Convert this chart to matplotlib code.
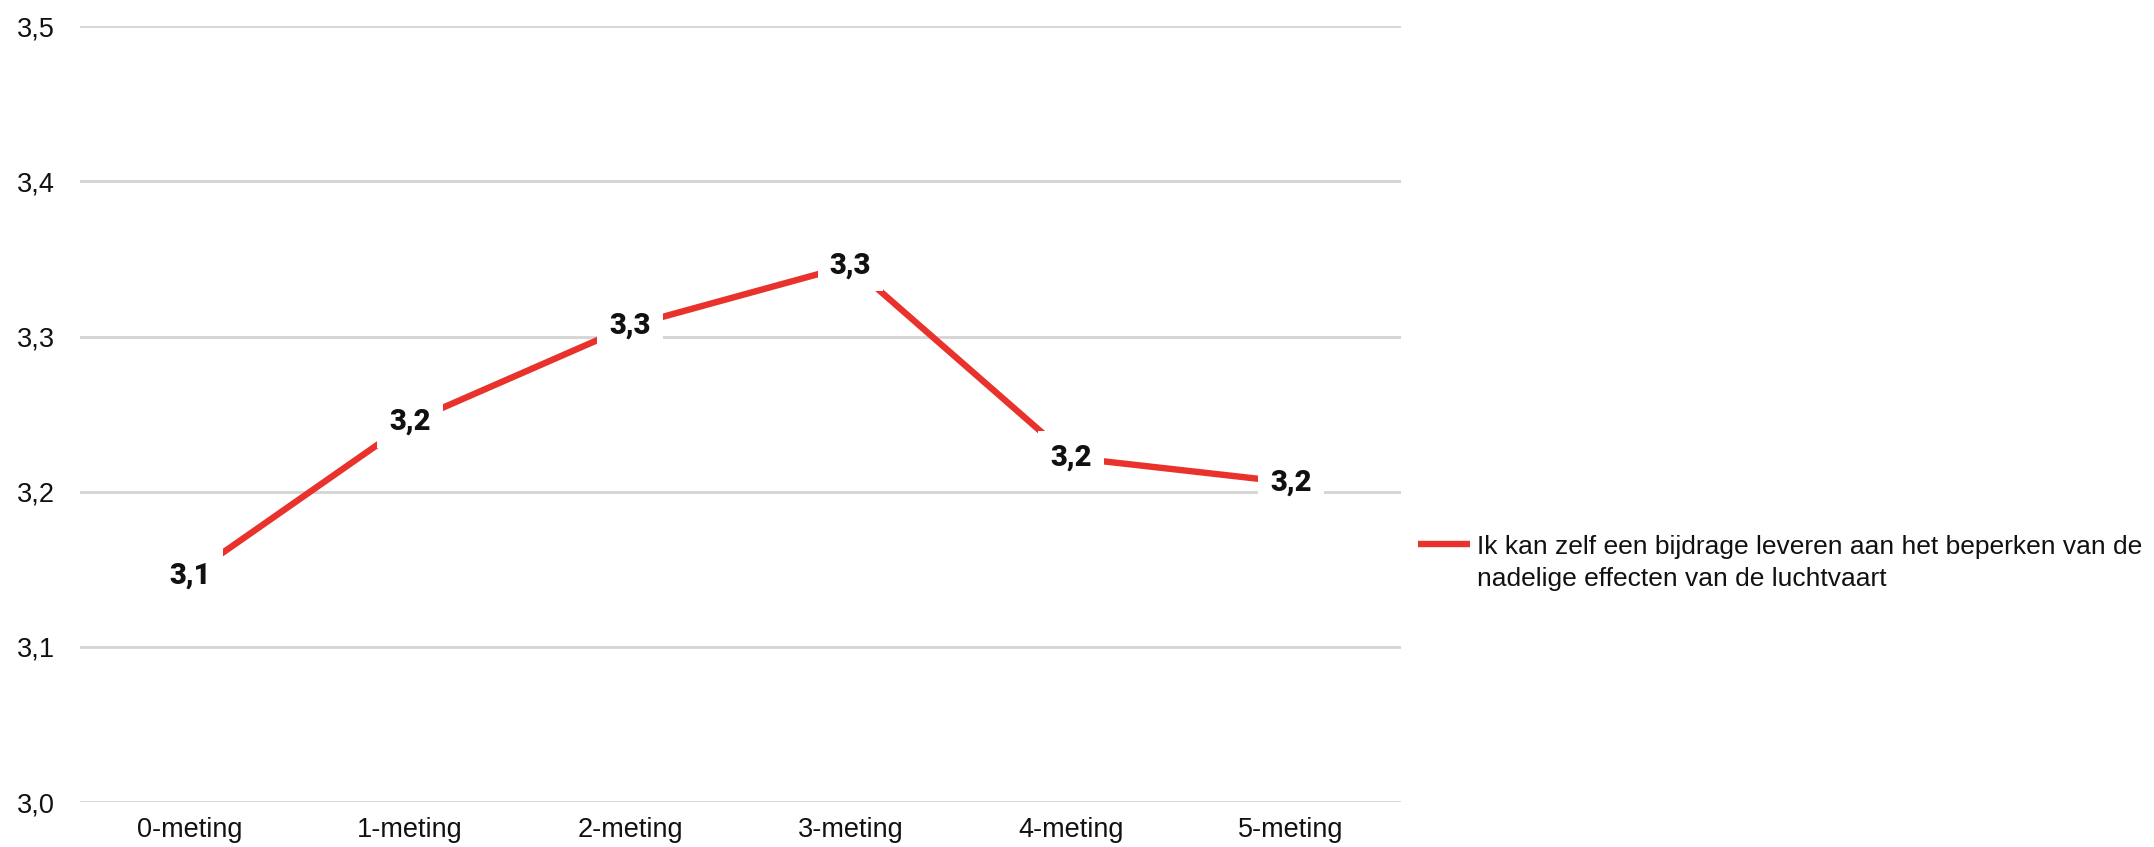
import matplotlib.pyplot as plt

# Survey rounds and mean score per round
metingen = ['0-meting', '1-meting', '2-meting', '3-meting', '4-meting', '5-meting']
scores = [3.146, 3.245, 3.307, 3.346, 3.222, 3.206]
yticks = [3.0, 3.1, 3.2, 3.3, 3.4, 3.5]
reeks = ('Ik kan zelf een bijdrage leveren aan het beperken van de\n'
         'nadelige effecten van de luchtvaart')

RED = '#e8322b'


def comma(v, decimals=1):
    return f'{v:.{decimals}f}'.replace('.', ',')


def main():
    plt.rcParams['font.family'] = ['Liberation Sans', 'DejaVu Sans']

    fig = plt.figure(figsize=(21.54, 8.47), dpi=100)
    ax = fig.add_axes([0.0371, 0.053, 0.6133, 0.916])

    x = range(len(metingen))
    ax.plot(x, scores, color=RED, lw=4.6, solid_capstyle='butt', zorder=3)

    # value labels sit on the points, white box cuts the line
    for i, v in enumerate(scores):
        ax.text(i, v, comma(v), ha='center', va='center', fontsize=21,
                fontweight='heavy', family=['Roboto', 'DejaVu Sans'],
                color='#111111', zorder=4,
                bbox=dict(boxstyle='square,pad=0.42', fc='white', ec='none'))

    ax.set_xlim(-0.5, len(metingen) - 0.5)
    ax.set_ylim(3.0, 3.5)
    ax.set_yticks(yticks)
    ax.set_yticklabels([comma(t) for t in yticks])
    ax.set_xticks(list(x))
    ax.set_xticklabels(metingen)
    ax.tick_params(axis='both', length=0, labelsize=19.5, colors='#111111')
    ax.tick_params(axis='y', pad=18)
    ax.tick_params(axis='x', pad=11)
    ax.grid(axis='y', color='#d4d4d4', lw=2)
    ax.set_axisbelow(True)
    for s in ax.spines.values():
        s.set_visible(False)

    # legend key next to the first line of the (wrapped) series name;
    # baseline anchoring refers to the last text line
    ax.plot([1.0129, 1.052], [0.3325, 0.3325], transform=ax.transAxes,
            color=RED, lw=4.6, solid_capstyle='butt', clip_on=False)
    ax.text(1.0575, 0.278, reeks, transform=ax.transAxes, fontsize=19,
            ha='left', va='baseline', linespacing=1.45, color='#111111')

    fig.savefig('out.png', dpi=100, facecolor='white')


if __name__ == '__main__':
    main()
